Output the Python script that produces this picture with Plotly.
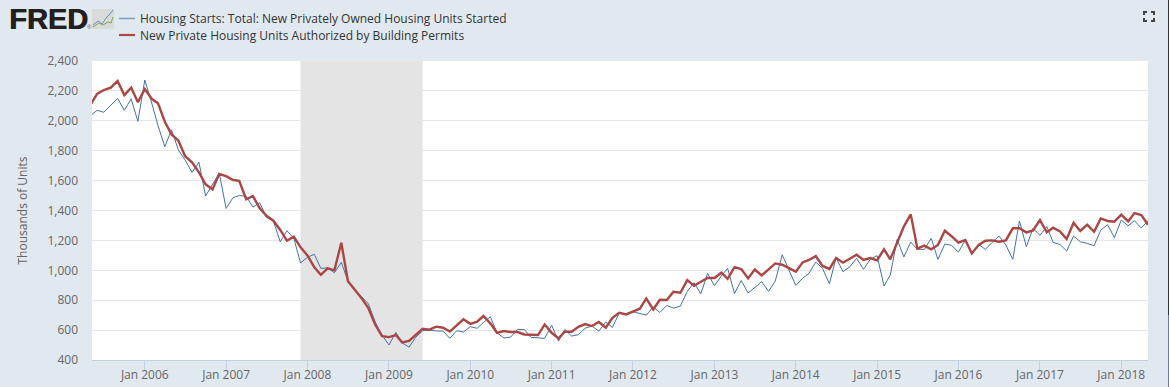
import plotly.graph_objects as go
import pandas as pd

W, H = 1169, 387
L, R, T, B = 92, 1148, 61, 360

START_MONTH = "2005-05-01"
X_RANGE = ["2005-05-09", "2018-05-01"]
RECESSION = ["2007-12-01", "2009-06-01"]
Y_TICKS = [400, 600, 800, 1000, 1200, 1400, 1600, 1800, 2000, 2200, 2400]
X_TICKS = [f"{y}-01-01" for y in range(2006, 2019)]
X_TICK_LABELS = [f"Jan {y}" for y in range(2006, 2019)]
NAME_STARTS = "Housing Starts: Total: New Privately Owned Housing Units Started"
NAME_PERMITS = "New Private Housing Units Authorized by Building Permits"
Y_TITLE = "Thousands of Units"

starts = [
    2034, 2070, 2057, 2103, 2150, 2070, 2147, 1996,
    2273, 2119, 1969, 1827, 1940, 1804, 1737, 1655, 1723, 1497, 1570, 1649,
    1414, 1486, 1500, 1495, 1423, 1452, 1354, 1330, 1190, 1265, 1214, 1049,
    1087, 1107, 1013, 1016, 984, 1053, 926, 863, 823, 774, 651, 567,
    500, 585, 515, 486, 552, 596, 600, 594, 594, 545, 596, 587,
    623, 612, 651, 689, 582, 547, 553, 605, 603, 551, 549, 544,
    633, 526, 604, 560, 569, 613, 627, 593, 654, 618, 716, 705,
    723, 712, 700, 754, 718, 765, 747, 761, 859, 917, 843, 979,
    897, 963, 1013, 845, 932, 848, 888, 924, 859, 928, 1104, 1002,
    899, 946, 980, 1055, 1013, 910, 1084, 991, 1024, 1080, 1006, 1073,
    1098, 895, 968, 1207, 1089, 1189, 1140, 1140, 1214, 1073, 1176, 1167,
    1122, 1202, 1107, 1173, 1140, 1187, 1229, 1169, 1073, 1330, 1158, 1281,
    1234, 1292, 1187, 1173, 1129, 1229, 1191, 1180, 1165, 1269, 1305, 1218,
    1336, 1298, 1332, 1283, 1332,
]
permits = [
    2105, 2180, 2206, 2222, 2266, 2172, 2222, 2124,
    2212, 2147, 2118, 1994, 1909, 1867, 1763, 1722, 1655, 1575, 1541, 1644,
    1630, 1604, 1599, 1475, 1497, 1415, 1365, 1332, 1270, 1198, 1225, 1154,
    1100, 1020, 970, 1013, 1000, 1184, 926, 868, 812, 745, 634, 560,
    553, 567, 518, 527, 565, 609, 603, 623, 616, 590, 632, 672,
    642, 656, 694, 645, 582, 594, 587, 587, 571, 567, 567, 638,
    582, 544, 589, 589, 622, 640, 627, 654, 616, 682, 716, 705,
    723, 743, 812, 738, 803, 801, 856, 850, 934, 897, 923, 948,
    948, 984, 943, 1021, 1008, 946, 1005, 966, 1006, 1046, 1037, 1017,
    991, 1053, 1069, 1095, 1029, 1009, 1082, 1051, 1078, 1104, 1069, 1082,
    1067, 1140, 1073, 1191, 1292, 1374, 1145, 1165, 1140, 1169, 1265, 1228,
    1185, 1202, 1113, 1169, 1198, 1200, 1191, 1200, 1281, 1281, 1254, 1267,
    1336, 1254, 1285, 1260, 1209, 1318, 1263, 1305, 1258, 1347, 1330, 1325,
    1372, 1327, 1383, 1370, 1305,
]
months = pd.date_range(START_MONTH, periods=len(starts), freq="MS")

BG = "#e1e9f0"
BLUE = "#4572a7"
RED = "#aa4643"
FONT = "Open Sans"

# Paper fractions are relative to the plot area, so convert pixels accordingly.
def fx(x):
    return (x - L) / (R - L)
def fy(y):
    return (B - y) / (B - T)

def rect(x0, y0, x1, y1, color):
    return dict(type="rect", xref="paper", yref="paper", x0=fx(x0), x1=fx(x1),
                y0=fy(y1), y1=fy(y0), fillcolor=color, line_width=0, layer="above")

def poly(pts, color, width):
    d = "M" + " L".join(f"{fx(a):.5f},{fy(b):.5f}" for a, b in pts)
    return dict(type="path", xref="paper", yref="paper", path=d,
                line=dict(color=color, width=width), layer="above")

fig = go.Figure()
fig.add_trace(go.Scatter(x=months, y=starts, name=NAME_STARTS, mode="lines",
                         line=dict(color=BLUE, width=1), showlegend=False))
fig.add_trace(go.Scatter(x=months, y=permits, name=NAME_PERMITS, mode="lines",
                         line=dict(color=RED, width=2.4), showlegend=False))

shapes = [
    dict(type="rect", xref="x", yref="paper", x0=RECESSION[0], x1=RECESSION[1],
         y0=0, y1=1, fillcolor="#e4e4e4", line_width=0, layer="below"),
    poly([(119, 18.5), (135, 18.5)], "#7c9cc0", 1.5),
    poly([(119, 35), (135, 35)], RED, 2.2),
    rect(92, 9, 114, 29, "#d9dbd9"),
    poly([(93, 25), (98, 21), (102, 24), (107, 17), (109, 15), (113, 10)], "#5f8fbf", 1),
    poly([(93, 27), (99, 23), (103, 25), (108, 22), (111, 23), (113, 17)], "#7fa85a", 1),
    rect(1168, 0, 1169, 315, "#333333"),
    rect(1168, 315, 1169, 387, "#5a7fb0"),
]
for (cx, cy, dx, dy) in [(1144, 12, 1, 1), (1154, 12, -1, 1), (1144, 21, 1, -1), (1154, 21, -1, -1)]:
    shapes.append(poly([(cx + 3 * dx, cy), (cx, cy), (cx, cy + 3 * dy)], "#444444", 2))

annotations = [
    dict(text="<b>FRED</b>", x=fx(9), y=fy(19), xanchor="left", yanchor="middle",
         font=dict(family="Liberation Sans", size=29, color="#231f20", shadow="0.7px 0 0 #231f20")),
    dict(text="®", x=fx(86.5), y=fy(27), xanchor="left", yanchor="middle",
         font=dict(family="Liberation Sans", size=6, color="#555555")),
    dict(text=NAME_STARTS, x=fx(140), y=fy(18.5), xanchor="left", yanchor="middle",
         font=dict(family=FONT, size=12, color="#333333")),
    dict(text=NAME_PERMITS, x=fx(140), y=fy(35), xanchor="left", yanchor="middle",
         font=dict(family=FONT, size=12, color="#333333")),
]
for a in annotations:
    a.update(xref="paper", yref="paper", showarrow=False, borderpad=0, borderwidth=0)

fig.update_layout(
    width=W, height=H, autosize=False,
    paper_bgcolor=BG, plot_bgcolor="#ffffff",
    margin=dict(l=L, r=W - R, t=T, b=H - B, pad=0),
    font=dict(family=FONT, size=12, color="#666666"),
    showlegend=False, shapes=shapes, annotations=annotations,
    xaxis=dict(type="date", range=X_RANGE, tickmode="array", tickvals=X_TICKS,
               ticktext=X_TICK_LABELS, showgrid=False, zeroline=False, automargin=False,
               ticks="outside", ticklen=9, tickwidth=1, tickcolor="#c0d0e0",
               ticklabelstandoff=-5,
               showline=True, linecolor="#c0d0e0", linewidth=1,
               tickfont=dict(family=FONT, size=12, color="#666666")),
    yaxis=dict(range=[400, 2400], tickmode="array", tickvals=Y_TICKS,
               tickformat=",d", showgrid=True, gridcolor="#e6e6e6", gridwidth=1,
               zeroline=False, ticks="", showline=False, automargin=False,
               ticklabelstandoff=13,
               title=dict(text=Y_TITLE, standoff=17,
                          font=dict(family=FONT, size=12, color="#666666")),
               tickfont=dict(family=FONT, size=12, color="#666666")),
)
fig.write_html("out.html", config={"displayModeBar": False},
               post_script="document.body.style.margin='0';document.body.style.overflow='hidden';")
